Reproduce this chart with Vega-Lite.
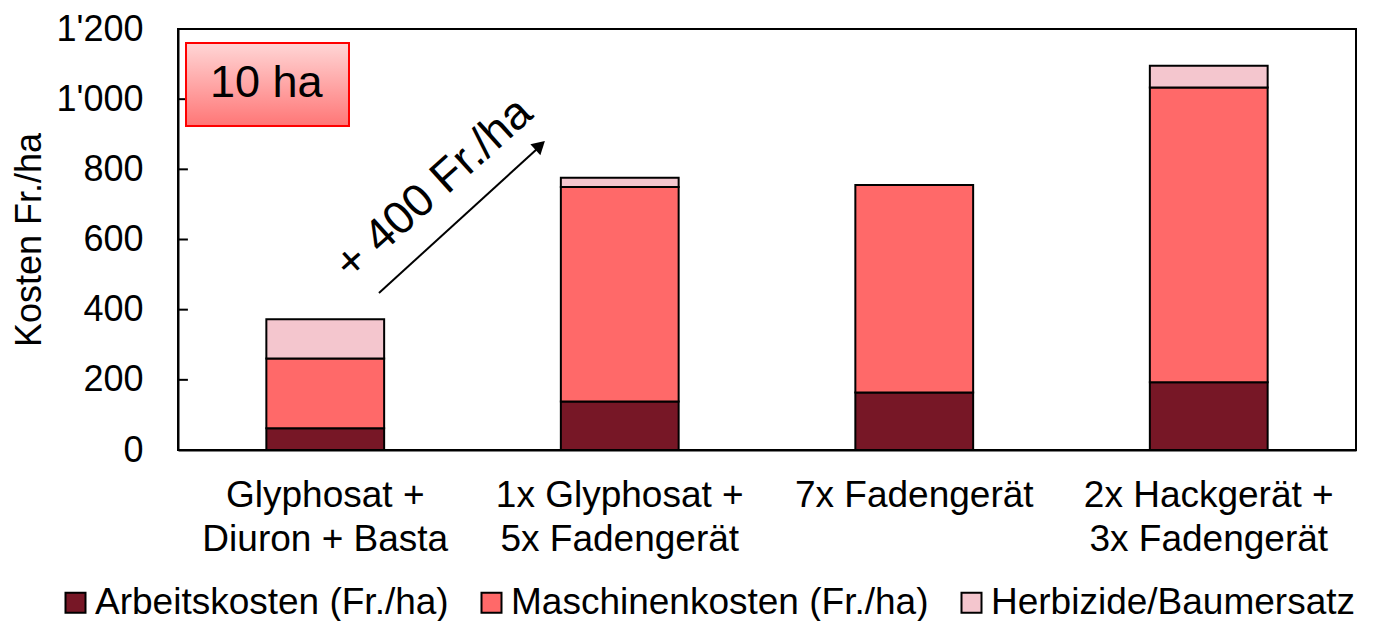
{
  "$schema": "https://vega.github.io/schema/vega-lite/v6.json",
  "width": 1178,
  "height": 421,
  "autosize": "none",
  "padding": {"left": 178, "top": 29, "right": 17, "bottom": 171},
  "background": "white",
  "config": {
    "font": "Liberation Sans",
    "view": {"stroke": "black", "strokeWidth": 2},
    "axis": {
      "labelFont": "Liberation Sans",
      "titleFont": "Liberation Sans",
      "labelColor": "black",
      "titleColor": "black",
      "domainColor": "black",
      "tickColor": "black",
      "domainWidth": 2,
      "tickWidth": 2,
      "grid": false,
      "zindex": 1
    }
  },
  "layer": [
    {
      "data": {
        "values": [
          {"Variante": "Glyphosat +|Diuron + Basta", "Kategorie": "Arbeitskosten (Fr./ha)", "k": 1, "Kosten": 62},
          {"Variante": "Glyphosat +|Diuron + Basta", "Kategorie": "Maschinenkosten (Fr./ha)", "k": 2, "Kosten": 199},
          {"Variante": "Glyphosat +|Diuron + Basta", "Kategorie": "Herbizide/Baumersatz", "k": 3, "Kosten": 112},
          {"Variante": "1x Glyphosat +|5x Fadengerät", "Kategorie": "Arbeitskosten (Fr./ha)", "k": 1, "Kosten": 138},
          {"Variante": "1x Glyphosat +|5x Fadengerät", "Kategorie": "Maschinenkosten (Fr./ha)", "k": 2, "Kosten": 612},
          {"Variante": "1x Glyphosat +|5x Fadengerät", "Kategorie": "Herbizide/Baumersatz", "k": 3, "Kosten": 26},
          {"Variante": "7x Fadengerät", "Kategorie": "Arbeitskosten (Fr./ha)", "k": 1, "Kosten": 164},
          {"Variante": "7x Fadengerät", "Kategorie": "Maschinenkosten (Fr./ha)", "k": 2, "Kosten": 591},
          {"Variante": "7x Fadengerät", "Kategorie": "Herbizide/Baumersatz", "k": 3, "Kosten": 0},
          {"Variante": "2x Hackgerät +|3x Fadengerät", "Kategorie": "Arbeitskosten (Fr./ha)", "k": 1, "Kosten": 193},
          {"Variante": "2x Hackgerät +|3x Fadengerät", "Kategorie": "Maschinenkosten (Fr./ha)", "k": 2, "Kosten": 840},
          {"Variante": "2x Hackgerät +|3x Fadengerät", "Kategorie": "Herbizide/Baumersatz", "k": 3, "Kosten": 62}
        ]
      },
      "mark": {"type": "bar", "stroke": "black", "strokeWidth": 2},
      "encoding": {
        "x": {
          "field": "Variante",
          "type": "nominal",
          "sort": null,
          "scale": {"paddingInner": 0.6, "paddingOuter": 0.3},
          "axis": {
            "title": null,
            "labelExpr": "split(datum.label, '|')",
            "labelAngle": 0,
            "labelFontSize": 37,
            "ticks": false,
            "labelPadding": 27,
            "labelLineHeight": 44,
            "labelLimit": 0
          }
        },
        "y": {
          "field": "Kosten",
          "type": "quantitative",
          "stack": "zero",
          "scale": {"domain": [0, 1200], "nice": false},
          "axis": {
            "title": "Kosten Fr./ha",
            "values": [0, 200, 400, 600, 800, 1000, 1200],
            "ticks": false,
            "labelPadding": 35,
            "labelFontSize": 36,
            "titleFontSize": 36,
            "titleFontWeight": "normal",
            "titlePadding": 8,
            "labelExpr": "replace(format(datum.value, ','), ',', \"'\")"
          }
        },
        "color": {
          "field": "Kategorie",
          "type": "nominal",
          "scale": {
            "domain": ["Arbeitskosten (Fr./ha)", "Maschinenkosten (Fr./ha)", "Herbizide/Baumersatz"],
            "range": ["#771726", "#FF6969", "#F4C6CE"]
          },
          "legend": {
            "title": null,
            "orient": "none",
            "legendX": -121,
            "legendY": 555,
            "direction": "horizontal",
            "padding": 0,
            "symbolType": "square",
            "symbolSize": 400,
            "symbolStrokeColor": "black",
            "symbolStrokeWidth": 2,
            "symbolOpacity": 1,
            "labelFontSize": 37,
            "labelFont": "Liberation Sans",
            "labelColor": "black",
            "labelLimit": 0,
            "labelOffset": 1,
            "columnPadding": 24
          }
        },
        "order": {"field": "k", "type": "quantitative"}
      }
    },
    {
      "data": {"values": [{"t": 0}, {"t": 200}, {"t": 400}, {"t": 600}, {"t": 800}, {"t": 1000}, {"t": 1200}]},
      "mark": {"type": "rule", "stroke": "black", "strokeWidth": 2},
      "encoding": {
        "x": {"datum": "Glyphosat +|Diuron + Basta", "bandPosition": -0.7515},
        "x2": {"datum": "Glyphosat +|Diuron + Basta", "bandPosition": -0.666},
        "y": {"field": "t", "type": "quantitative"}
      }
    },
    {
      "data": {"values": [{}]},
      "mark": {
        "type": "rect",
        "stroke": "#FF0000",
        "strokeWidth": 2,
        "fill": {
          "gradient": "linear",
          "x1": 0, "y1": 0, "x2": 0, "y2": 1,
          "stops": [
            {"offset": 0, "color": "#FFD6D6"},
            {"offset": 1, "color": "#FF7676"}
          ]
        }
      },
      "encoding": {
        "x": {"datum": "Glyphosat +|Diuron + Basta", "bandPosition": -0.682},
        "x2": {"datum": "Glyphosat +|Diuron + Basta", "bandPosition": 0.7016},
        "y": {"datum": 1160},
        "y2": {"datum": 923.5}
      }
    },
    {
      "data": {"values": [{}]},
      "mark": {"type": "text", "fontSize": 45, "font": "Liberation Sans", "color": "black", "align": "center", "baseline": "middle"},
      "encoding": {
        "x": {"datum": "Glyphosat +|Diuron + Basta", "bandPosition": 0.0},
        "y": {"datum": 1045},
        "text": {"value": "10 ha"}
      }
    },
    {
      "data": {"values": [{}]},
      "mark": {"type": "rule", "stroke": "black", "strokeWidth": 2},
      "encoding": {
        "x": {"datum": "Glyphosat +|Diuron + Basta", "bandPosition": 0.956},
        "y": {"datum": 447.5},
        "x2": {"datum": "1x Glyphosat +|5x Fadengerät", "bandPosition": -0.17},
        "y2": {"datum": 868}
      }
    },
    {
      "data": {"values": [{}]},
      "mark": {"type": "point", "shape": "triangle-up", "filled": true, "color": "black", "opacity": 1, "size": 220, "angle": 47.5},
      "encoding": {
        "x": {"datum": "1x Glyphosat +|5x Fadengerät", "bandPosition": -0.176},
        "y": {"datum": 868.2}
      }
    },
    {
      "data": {"values": [{}]},
      "mark": {"type": "text", "fontSize": 46, "font": "Liberation Sans", "color": "black", "align": "center", "baseline": "middle", "angle": 318},
      "encoding": {
        "x": {"datum": "Glyphosat +|Diuron + Basta", "bandPosition": 1.42},
        "y": {"datum": 745},
        "text": {"value": "+ 400 Fr./ha"}
      }
    }
  ]
}
